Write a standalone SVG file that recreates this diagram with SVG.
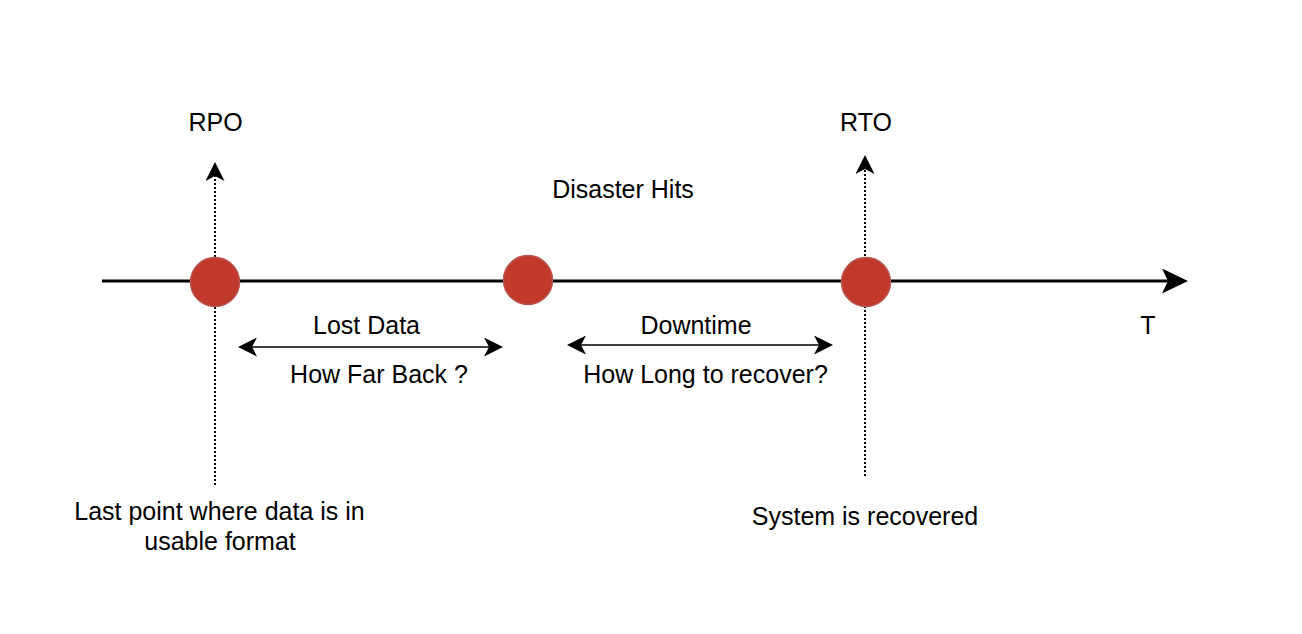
<svg xmlns="http://www.w3.org/2000/svg" width="1302" height="634" viewBox="0 0 1302 634">
  <style>
    text { font-family: "Liberation Sans", Arial, Helvetica, sans-serif; font-size: 25px; fill: #000; text-anchor: middle; }
    .dot { fill: #C0392B; stroke: #B85450; stroke-width: 1.5; }
    .axis { stroke: #000; stroke-width: 3; fill: none; }
    .span { stroke: #000; stroke-width: 1.5; fill: none; }
    .dotted { stroke: #000; stroke-width: 2; stroke-dasharray: 2 2; fill: none; }
  </style>
  <defs>
    <marker id="bigArrow" markerUnits="userSpaceOnUse" viewBox="0 0 26 25" markerWidth="26" markerHeight="25" refX="6" refY="12.5" orient="auto">
      <path d="M0,0 L26,12.5 L0,25 L6,12.5 Z" fill="#000"/>
    </marker>
    <marker id="smallArrow" markerUnits="userSpaceOnUse" viewBox="0 0 19 19" markerWidth="19" markerHeight="19" refX="5" refY="9.5" orient="auto-start-reverse">
      <path d="M0,0 L19,9.5 L0,19 L5,9.5 Z" fill="#000"/>
    </marker>
  </defs>
  <rect width="1302" height="634" fill="#fff"/>

  <g id="connectors">
    <line class="axis" x1="102" y1="281" x2="1168" y2="281" marker-end="url(#bigArrow)"/>
    <line class="dotted" x1="215" y1="485" x2="215" y2="176" marker-end="url(#smallArrow)"/>
    <line class="dotted" x1="865" y1="476" x2="865" y2="169" marker-end="url(#smallArrow)"/>
    <line class="span" x1="252" y1="347" x2="489" y2="347" marker-start="url(#smallArrow)" marker-end="url(#smallArrow)"/>
    <line class="span" x1="581" y1="345" x2="819" y2="345" marker-start="url(#smallArrow)" marker-end="url(#smallArrow)"/>
  </g>

  <g id="rpo-point"><circle class="dot" cx="215" cy="282" r="24.5"/></g>
  <g id="disaster-point"><circle class="dot" cx="528" cy="280" r="24.5"/></g>
  <g id="rto-point"><circle class="dot" cx="866" cy="282" r="24.5"/></g>

  <g id="label-rpo"><text x="215.5" y="131">RPO</text></g>
  <g id="label-rto"><text x="866" y="131">RTO</text></g>
  <g id="label-disaster"><text x="623" y="198">Disaster Hits</text></g>
  <g id="label-lost"><text x="366.5" y="334">Lost Data</text></g>
  <g id="label-farback"><text x="379" y="383">How Far Back ?</text></g>
  <g id="label-downtime"><text x="696" y="334">Downtime</text></g>
  <g id="label-howlong"><text x="705.5" y="383">How Long to recover?</text></g>
  <g id="label-t"><text x="1148" y="334">T</text></g>
  <g id="label-lastpoint">
    <text x="219.5" y="520">Last point where data is in</text>
    <text x="220" y="550">usable format</text>
  </g>
  <g id="label-recovered"><text x="865" y="525">System is recovered</text></g>
</svg>
